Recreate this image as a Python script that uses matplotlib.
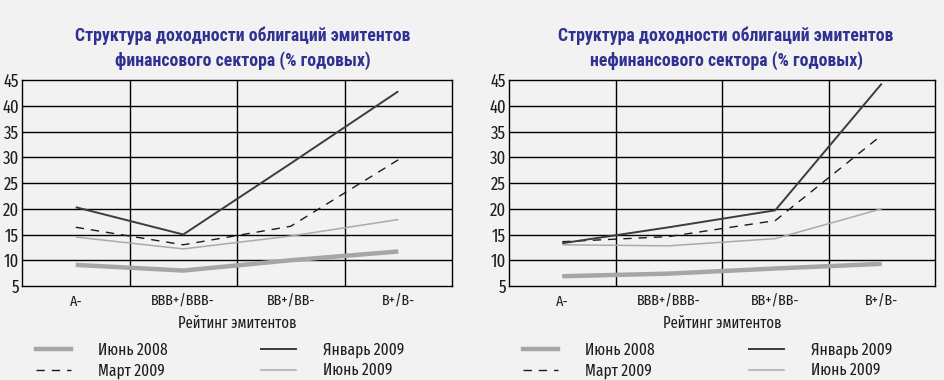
import matplotlib
matplotlib.use("Agg")
import matplotlib.pyplot as plt
from matplotlib.lines import Line2D

plt.rcParams["font.family"] = ["Fira Sans Extra Condensed", "DejaVu Sans"]
TITLE_FONT = ["Roboto Condensed", "DejaVu Sans"]

# данные
categories = ["A-", "BBB+/BBB-", "BB+/BB-", "B+/B-"]
series_names = ["Июнь 2008", "Март 2009", "Январь 2009", "Июнь 2009"]

fin_jun2008 = [9.1, 8.0, 10.0, 11.7]
fin_mar2009 = [16.4, 13.0, 16.6, 29.5]
fin_jan2009 = [20.3, 15.0, 28.8, 42.8]
fin_jun2009 = [14.5, 12.2, 14.7, 17.9]

nonfin_jun2008 = [6.9, 7.4, 8.4, 9.3]
nonfin_mar2009 = [13.6, 14.6, 17.7, 34.3]
nonfin_jan2009 = [13.3, 16.4, 19.7, 44.3]
nonfin_jun2009 = [13.0, 12.8, 14.2, 20.0]

titles = [
    "Структура доходности облигаций эмитентов\nфинансового сектора (% годовых)",
    "Структура доходности облигаций эмитентов\nнефинансового сектора (% годовых)",
]
xlabel = "Рейтинг эмитентов"
yticks = [5, 10, 15, 20, 25, 30, 35, 40, 45]

bg = "#f2f2f2"
text_color = "#1e1e1e"
title_color = "#2e3192"
styles = {
    "Июнь 2008": dict(color="#a6a6a6", lw=3.2, ls="-"),
    "Март 2009": dict(color="#1a1a1a", lw=1.0, ls=(0, (6, 5))),
    "Январь 2009": dict(color="#3c3c3c", lw=1.4, ls="-"),
    "Июнь 2009": dict(color="#ababab", lw=1.1, ls="-"),
}

W, H = 944, 380
fig = plt.figure(figsize=(W / 100, H / 100), dpi=100, facecolor=bg)


def px(x0, y0, x1, y1):
    return [x0 / W, 1 - y1 / H, (x1 - x0) / W, (y1 - y0) / H]


panels = [
    (px(22, 80, 452, 286), [fin_jun2008, fin_mar2009, fin_jan2009, fin_jun2009], 243),
    (px(509, 80, 935, 286), [nonfin_jun2008, nonfin_mar2009, nonfin_jan2009, nonfin_jun2009], 726),
]

xs = [i + 0.5 for i in range(len(categories))]

for k, (rect, data, tx) in enumerate(panels):
    ax = fig.add_axes(rect)
    ax.set_facecolor(bg)
    for name, vals in zip(series_names, data):
        ax.plot(xs, vals, **styles[name], solid_capstyle="butt", zorder=3)
    ax.set_xlim(0, 4)
    ax.set_ylim(5, 45)
    ax.set_yticks(yticks)
    ax.set_yticklabels([str(t) for t in yticks], fontsize=13, color=text_color)
    ax.set_xticks(xs)
    ax.set_xticklabels(categories, fontsize=11, color=text_color)
    ax.tick_params(length=0, pad=2)
    ax.tick_params(axis="x", pad=6)
    for v in [1, 2, 3]:
        ax.axvline(v, color="black", lw=1, zorder=1)
    for t in yticks[1:-1]:
        ax.axhline(t, color="black", lw=1, zorder=1)
    for s in ax.spines.values():
        s.set_linewidth(1)
    ax.set_xlabel(xlabel, fontsize=11.5, labelpad=5, color=text_color)

    fig.text(tx / W, 1 - 48 / H, titles[k], ha="center", va="center",
             family=TITLE_FONT, fontsize=12.8, fontweight="bold",
             color=title_color, linespacing=1.45)

    # легенда: две колонки
    hx = [36, 261] if k == 0 else [523, 749]
    for col, names in enumerate([series_names[:2], series_names[2:]]):
        handles = [Line2D([], [], **styles[n]) for n in names]
        leg = fig.legend(handles, names, loc="upper left",
                         bbox_to_anchor=(hx[col] / W, 1 - 342 / H),
                         frameon=False, fontsize=12, borderpad=0, borderaxespad=0,
                         handlelength=2.1, handletextpad=1.6, labelspacing=0.28)
        for t in leg.get_texts():
            t.set_color(text_color)

fig.savefig("out.png", dpi=100, facecolor=bg)
